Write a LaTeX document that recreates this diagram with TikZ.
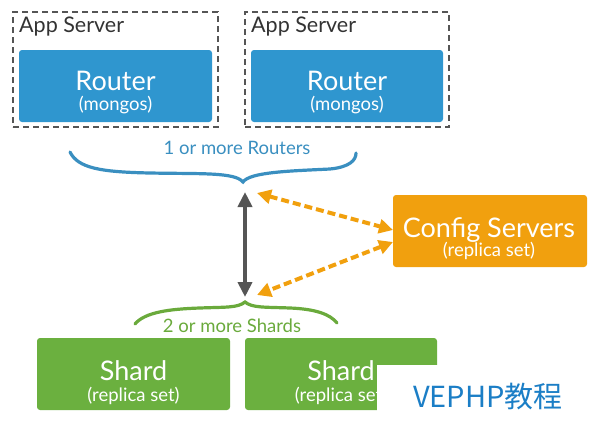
\documentclass[tikz,border=0pt]{standalone}
\usepackage{fontspec}
\setmainfont{Lato}
\newfontfamily\cjk{Noto Sans CJK SC}
\usetikzlibrary{arrows.meta}
\definecolor{rblue}{HTML}{2F96CF}
\definecolor{lblue}{HTML}{3A8FC0}
\definecolor{sgreen}{HTML}{6BB03F}
\definecolor{lgreen}{HTML}{6AAA3C}
\definecolor{corange}{HTML}{F1A00E}
\definecolor{dgray}{HTML}{555555}
\definecolor{tgray}{HTML}{333333}
\definecolor{wmblue}{HTML}{1B7EC6}
\begin{document}
\begin{tikzpicture}[x=1pt,y=-1pt,
  appbox/.style={draw=dgray, dash pattern=on 6pt off 4pt, line width=1.8pt, inner sep=0pt, outer sep=0pt},
  fillbox/.style={fill=#1, rounded corners=3pt, inner sep=0pt, outer sep=0pt, minimum height=72pt},
  bigtxt/.style={font=\fontsize{27}{32}\selectfont, text=white, inner sep=0pt, anchor=base},
  subtxt/.style={font=\fontsize{18.5}{22}\selectfont, text=white, inner sep=0pt, anchor=base},
  apptxt/.style={font=\fontsize{21.5}{26}\selectfont, text=tgray, inner sep=0pt, anchor=base west},
  grptxt/.style={font=\fontsize{18.5}{22}\selectfont, text=#1, inner sep=0pt, anchor=base},
  bracestyle/.style={draw=#1, line width=3.2pt, line cap=round},
  garrow/.style={draw=dgray, line width=4pt, {Triangle[length=15pt,width=14pt]}-{Triangle[length=15pt,width=14pt]}},
  oarrow/.style={draw=corange, line width=4pt, dash pattern=on 8pt off 4pt, {Triangle[length=14pt,width=14pt]}-{Triangle[length=14pt,width=14pt]}}
]
\useasboundingbox (0,0) rectangle (600,426);

% App servers and routers
\node[appbox, minimum width=205pt, minimum height=115pt] (a1) at (115.5,69.5) {};
\node[appbox, minimum width=204pt, minimum height=115pt] (a2) at (347,69.5) {};
\node[apptxt] (a1t) at (19,32) {App Server};
\node[apptxt] (a2t) at (251,32) {App Server};
\node[fillbox=rblue, minimum width=193pt] (r1) at (115.5,86) {};
\node[fillbox=rblue, minimum width=192pt] (r2) at (347,86) {};
\node[bigtxt] (r1a) at (115.5,90) {Router};
\node[subtxt] (r1b) at (115.5,110) {(mongos)};
\node[bigtxt] (r2a) at (347,90) {Router};
\node[subtxt] (r2b) at (347,110) {(mongos)};

% Router brace
\draw[bracestyle=lblue] (70,152) .. controls (78,168) and (100,172) .. (150,173)
  .. controls (200,174) and (235,172) .. (243,182)
  .. controls (250,172) and (290,171) .. (330,169)
  .. controls (350,167) and (356,160) .. (356,153);
\node[grptxt=lblue] (rl) at (237,154) {1 or more Routers};

% Config servers
\node[fillbox=corange, minimum width=194pt] (cfg) at (490,231) {};
\node[bigtxt] (cfga) at (489,237) {Config Servers};
\node[subtxt] (cfgb) at (489,256) {(replica set)};

% Shard brace
\draw[bracestyle=lgreen] (135,324) .. controls (145,312) and (170,309) .. (200,308)
  .. controls (225,307) and (238,308) .. (245,302)
  .. controls (252,308) and (265,307) .. (290,308)
  .. controls (315,309) and (330,314) .. (337,323);
\node[grptxt=lgreen] (sl) at (232,332) {2 or more Shards};

% Shards
\node[fillbox=sgreen, minimum width=193pt] (s1) at (133.5,374) {};
\node[fillbox=sgreen, minimum width=192pt] (s2) at (341,374) {};
\node[bigtxt] (s1a) at (133.5,380) {Shard};
\node[subtxt] (s1b) at (133.5,401) {(replica set)};
\node[bigtxt] (s2a) at (341,380) {Shard};
\node[subtxt] (s2b) at (341,401) {(replica set)};

% Arrows
\coordinate (gtop) at (245,192);
\coordinate (gbot) at (245,297);
\coordinate (otop) at (257,193);
\coordinate (obot) at (257,295);
\draw[garrow] (gtop) -- (gbot);
\draw[oarrow] (otop) -- ([yshift=1pt]cfg.west);
\draw[oarrow] ([yshift=-11pt]cfg.west) -- (obot);

% Watermark
\fill[white] (377,365) rectangle (600,426);
\node[font=\cjk\fontsize{29}{34}\selectfont, text=wmblue, inner sep=0pt, anchor=base west] (wm) at (413,407) {VEPHP教程};
\end{tikzpicture}
\end{document}
